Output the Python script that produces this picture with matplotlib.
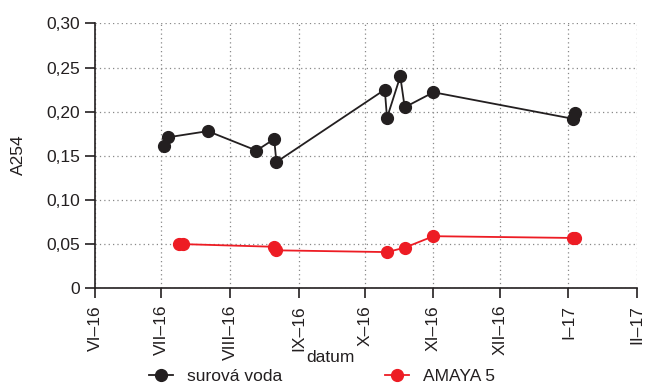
import numpy as np
import matplotlib
matplotlib.use('Agg')
import matplotlib.pyplot as plt
from matplotlib.ticker import FuncFormatter
import datetime as dt

plt.rcParams['font.family'] = ['Liberation Sans', 'DejaVu Sans']

# data
raw_dates = ['2016-07-02', '2016-07-04', '2016-07-22', '2016-08-13', '2016-08-21',
             '2016-08-22', '2016-10-10', '2016-10-11', '2016-10-17', '2016-10-19',
             '2016-11-01', '2017-01-03', '2017-01-04']
raw_a254 = [0.161, 0.171, 0.178, 0.156, 0.169, 0.143, 0.225, 0.193, 0.240, 0.205,
            0.222, 0.192, 0.198]

amaya_dates = ['2016-07-09', '2016-07-11', '2016-08-21', '2016-08-22', '2016-10-11',
               '2016-10-19', '2016-11-01', '2017-01-03', '2017-01-04']
amaya_a254 = [0.050, 0.050, 0.047, 0.043, 0.041, 0.046, 0.059, 0.057, 0.057]

month_ticks = ['2016-06-01', '2016-07-01', '2016-08-01', '2016-09-01', '2016-10-01',
               '2016-11-01', '2016-12-01', '2017-01-01', '2017-02-01']
month_labels = ['VI–16', 'VII–16', 'VIII–16', 'IX–16', 'X–16', 'XI–16', 'XII–16',
                'I–17', 'II–17']

to_dt = lambda s: [dt.datetime.strptime(d, '%Y-%m-%d') for d in s]

black = '#231f20'
red = '#ed1c24'
fs = 12.5

fig = plt.figure(figsize=(6.48, 3.85), dpi=100)
ax = fig.add_axes([0.1466, 0.2512, 0.8364, 0.688])

ax.plot(to_dt(raw_dates), raw_a254, '-o', color=black, lw=1.3, ms=8.5,
        label='surová voda', zorder=3)
ax.plot(to_dt(amaya_dates), amaya_a254, '-o', color=red, lw=1.3, ms=8.5,
        label='AMAYA 5', zorder=3)

ticks = to_dt(month_ticks)
ax.set_xlim(ticks[0], ticks[-1])
ax.set_xticks(ticks)
ax.set_xticklabels(month_labels, rotation=90, fontsize=fs)
ax.set_ylim(0, 0.30)
ax.set_yticks(np.arange(0, 0.31, 0.05))
ax.yaxis.set_major_formatter(FuncFormatter(
    lambda v, p: '0' if abs(v) < 1e-9 else f'{v:.2f}'.replace('.', ',')))
ax.tick_params(axis='y', labelsize=fs)
ax.tick_params(axis='x', pad=5)
ax.tick_params(length=7, width=1.2, color=black, labelcolor=black)

for s in ['top', 'right']:
    ax.spines[s].set_visible(False)
for s in ['left', 'bottom']:
    ax.spines[s].set_linewidth(1.2)
    ax.spines[s].set_color(black)

ax.grid(True, linestyle=(0, (1, 2.5)), color='#888888', lw=0.9)
ax.set_axisbelow(True)

ax.set_xlabel('datum', fontsize=fs, color=black)
ax.xaxis.set_label_coords(0.434, -0.233)
ax.set_ylabel('A254', fontsize=fs, color=black)
ax.yaxis.set_label_coords(-0.127, 0.503)

fig.legend(loc='center', bbox_to_anchor=(0.497, 0.021), ncol=2, frameon=False,
           fontsize=fs, handlelength=1.4, columnspacing=5.9, handletextpad=0.8,
           labelcolor=black, borderpad=0, borderaxespad=0)

fig.savefig('out.png', dpi=100)
